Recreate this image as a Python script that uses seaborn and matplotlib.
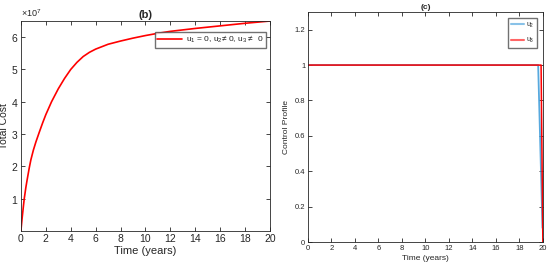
import numpy as np
import matplotlib
matplotlib.use('Agg')
import matplotlib.pyplot as plt
import pandas as pd
import seaborn as sns

# (b) total cost (x 1e7)
t_cost = [0, 0.1, 0.2, 0.27, 0.4, 0.5, 0.67, 0.8, 1.0, 1.2, 1.47, 1.75, 2.0, 2.46, 3.0, 3.5,
          4.0, 4.5, 5.0, 5.5, 6.0, 7.0, 8.0, 9.0, 10, 11, 12, 14, 16, 18, 20]
cost = [0, 0.40, 0.76, 1.0, 1.35, 1.58, 1.95, 2.2, 2.5, 2.75, 3.05, 3.35, 3.6, 4.0, 4.4, 4.72,
        5.0, 5.22, 5.4, 5.53, 5.63, 5.78, 5.88, 5.97, 6.05, 6.12, 6.18, 6.27, 6.35, 6.43, 6.5]
cost = [c * 1e7 for c in cost]

# (c) control profiles
t_u2 = [0, 19.6, 19.97]
u2 = [1, 1, 0.08]
t_u3 = [0, 19.85, 20]
u3 = [1, 1, 0]

sns.set_style('white')
plt.rcParams['font.family'] = ['Liberation Sans', 'DejaVu Sans']
plt.rcParams['mathtext.fontset'] = 'custom'
plt.rcParams['mathtext.rm'] = 'Liberation Sans'

fig = plt.figure(figsize=(5.5, 2.66), dpi=100)
ax1 = fig.add_axes([0.038, 0.132, 0.453, 0.789])
ax2 = fig.add_axes([0.56, 0.09, 0.427, 0.865])

df_cost = pd.DataFrame({'t': t_cost, 'cost': cost})
sns.lineplot(data=df_cost, x='t', y='cost', ax=ax1, color='red', lw=1.2,
             label=r'$\mathregular{u_1}$ = 0, $\mathregular{u_2}$≠ 0, $\mathregular{u_3}$ ≠  0')
ax1.set_xlim(0, 20)
ax1.set_ylim(0, 6.5e7)
ax1.set_xticks(range(0, 21, 2))
ax1.set_yticks([1e7, 2e7, 3e7, 4e7, 5e7, 6e7])
ax1.ticklabel_format(axis='y', style='sci', scilimits=(7, 7), useMathText=True)
ax1.yaxis.get_offset_text().set_fontsize(6.5)
ax1.yaxis.get_offset_text().set_color('0.3')
ax1.set_xlabel('Time (years)', fontsize=8, labelpad=2)
ax1.set_ylabel('Total Cost', fontsize=7.5)
ax1.yaxis.set_label_coords(-0.046, 0.5)
ax1.set_title('(b)', fontsize=8, fontweight='bold', pad=2)
ax1.legend(loc='upper right', fontsize=6, frameon=True, fancybox=False,
           edgecolor='0.3', bbox_to_anchor=(0.985, 0.95), borderaxespad=0,
           borderpad=0.3, handlelength=3.0, handletextpad=0.5)

df_u2 = pd.DataFrame({'t': t_u2, 'u': u2})
df_u3 = pd.DataFrame({'t': t_u3, 'u': u3})
sns.lineplot(data=df_u2, x='t', y='u', ax=ax2, color='#3a9ad9', lw=1.3, alpha=0.85,
             label=r'$\mathregular{u_2}$')
sns.lineplot(data=df_u3, x='t', y='u', ax=ax2, color='red', lw=1.1,
             label=r'$\mathregular{u_3}$')
ax2.set_xlim(0, 20)
ax2.set_ylim(0, 1.3)
ax2.set_xticks(range(0, 21, 2))
ax2.set_yticks([0, 0.2, 0.4, 0.6, 0.8, 1, 1.2])
ax2.set_yticklabels(['0', '0.2', '0.4', '0.6', '0.8', '1', '1.2'])
ax2.set_xlabel('Time (years)', fontsize=6, labelpad=2)
ax2.set_ylabel('Control Profile', fontsize=6, labelpad=3)
ax2.set_title('(c)', fontsize=6, fontweight='bold', pad=2)
leg2 = ax2.legend(loc='upper right', fontsize=5, frameon=True, fancybox=False,
                  edgecolor='0.3', bbox_to_anchor=(0.975, 0.975), borderaxespad=0,
                  borderpad=0.4, handlelength=1.9, handletextpad=0.2, labelspacing=0.9)
for h in leg2.get_lines():
    h.set_alpha(0.6)
    h.set_linewidth(1.5)

for ax, fs in [(ax1, 7.5), (ax2, 5.5)]:
    ax.tick_params(direction='in', length=3, width=0.6, top=True, right=True,
                   bottom=True, left=True, labelsize=fs, pad=2, colors='0.15')
    for s in ax.spines.values():
        s.set_color('0.15')
        s.set_linewidth(0.6)

fig.savefig('out.png', dpi=100)
